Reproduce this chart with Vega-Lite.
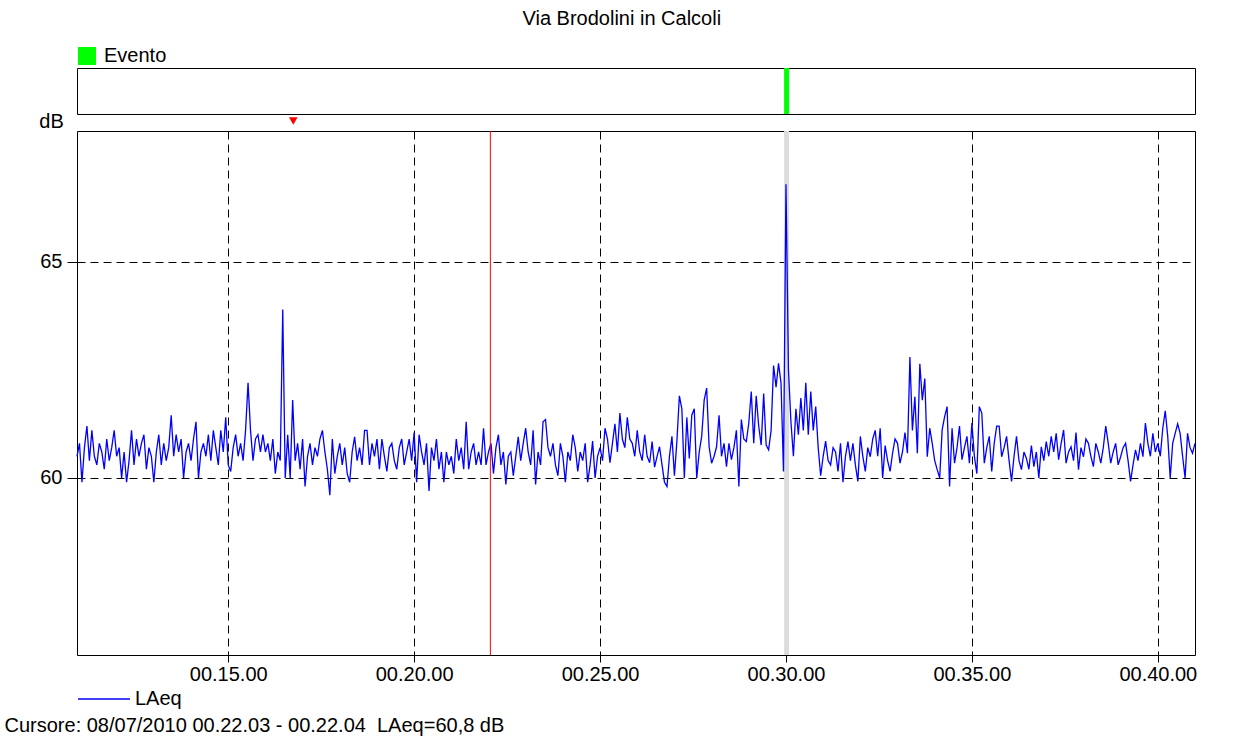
{
"$schema": "https://vega.github.io/schema/vega-lite/v6.json",
"background": "white",
"padding": {"left": 3, "top": 8, "right": 10, "bottom": 5},
"bounds": "flush",
"spacing": 17,
"title": {"text": "Via Brodolini in Calcoli", "fontSize": 20, "fontWeight": "normal", "font": "Liberation Sans", "color": "black", "anchor": "middle", "offset": 17, "dx": 21},
"config": {"font": "Liberation Sans", "view": {"stroke": "black", "strokeWidth": 1}},
"resolve": {"scale": {"color": "independent"}, "legend": {"color": "independent"}},
"datasets": {
"evento": [{"inizio": 1797, "fine": 1805, "tipo": "Evento"}],
"laeq": [
{"t":656,"v":60.5},{"t":660,"v":60.8},{"t":664,"v":59.9},{"t":668,"v":60.7},{"t":672,"v":61.2},{"t":676,"v":60.4},{"t":680,"v":61.1},{"t":684,"v":60.5},{"t":688,"v":60.3},{"t":692,"v":60.8},{"t":696,"v":60.6},{"t":700,"v":60.2},{"t":704,"v":60.9},{"t":708,"v":60.4},{"t":712,"v":60.7},{"t":716,"v":61.1},{"t":720,"v":60.5},{"t":724,"v":60.7},{"t":728,"v":60.0},{"t":732,"v":60.6},{"t":736,"v":59.9},{"t":740,"v":60.4},{"t":744,"v":61.1},{"t":748,"v":60.3},{"t":752,"v":60.9},{"t":756,"v":60.5},{"t":760,"v":60.8},{"t":764,"v":61.0},{"t":768,"v":60.2},{"t":772,"v":60.7},{"t":776,"v":60.5},{"t":780,"v":59.9},{"t":784,"v":60.6},{"t":788,"v":61.0},{"t":792,"v":60.3},{"t":796,"v":60.8},{"t":800,"v":60.4},{"t":804,"v":60.7},{"t":808,"v":61.45},{"t":812,"v":60.5},{"t":816,"v":61.0},{"t":820,"v":60.6},{"t":824,"v":60.9},{"t":828,"v":60.0},{"t":832,"v":60.6},{"t":836,"v":60.8},{"t":840,"v":60.4},{"t":844,"v":60.9},{"t":848,"v":61.3},{"t":852,"v":60.0},{"t":856,"v":60.6},{"t":860,"v":60.8},{"t":864,"v":60.5},{"t":868,"v":61.0},{"t":872,"v":60.4},{"t":876,"v":61.1},{"t":880,"v":60.7},{"t":884,"v":60.3},{"t":888,"v":61.1},{"t":892,"v":60.6},{"t":896,"v":61.4},
{"t":900,"v":60.3},{"t":904,"v":60.15},{"t":908,"v":60.7},{"t":912,"v":61.0},{"t":916,"v":60.5},{"t":920,"v":60.8},{"t":924,"v":60.4},{"t":928,"v":61.1},{"t":932,"v":62.2},{"t":936,"v":61.1},{"t":940,"v":60.4},{"t":944,"v":60.9},{"t":948,"v":61.0},{"t":952,"v":60.6},{"t":956,"v":61.0},{"t":960,"v":60.6},{"t":964,"v":60.8},{"t":968,"v":60.4},{"t":972,"v":60.9},{"t":976,"v":60.1},{"t":980,"v":60.6},{"t":984,"v":60.4},{"t":988,"v":63.9},{"t":992,"v":60.0},{"t":996,"v":61.0},{"t":1000,"v":60.0},{"t":1004,"v":61.8},{"t":1008,"v":60.4},{"t":1012,"v":60.8},{"t":1016,"v":60.2},{"t":1020,"v":60.9},{"t":1024,"v":59.8},{"t":1028,"v":60.5},{"t":1032,"v":60.8},{"t":1036,"v":60.3},{"t":1040,"v":60.7},{"t":1044,"v":60.5},{"t":1048,"v":60.9},{"t":1052,"v":61.1},{"t":1056,"v":60.6},{"t":1060,"v":60.2},{"t":1064,"v":59.6},{"t":1068,"v":60.9},{"t":1072,"v":60.1},{"t":1076,"v":60.5},{"t":1080,"v":60.8},{"t":1084,"v":60.3},{"t":1088,"v":60.7},{"t":1092,"v":60.1},{"t":1096,"v":59.9},{"t":1100,"v":60.6},{"t":1104,"v":60.95},{"t":1108,"v":60.4},{"t":1112,"v":60.7},{"t":1116,"v":60.3},{"t":1120,"v":61.1},{"t":1124,"v":61.1},{"t":1128,"v":60.3},{"t":1132,"v":60.8},{"t":1136,"v":60.5},{"t":1140,"v":60.9},{"t":1144,"v":60.2},{"t":1148,"v":60.9},{"t":1152,"v":60.5},{"t":1156,"v":60.15},{"t":1160,"v":60.7},{"t":1164,"v":60.8},{"t":1168,"v":60.4},{"t":1172,"v":60.2},{"t":1176,"v":60.7},{"t":1180,"v":60.9},{"t":1184,"v":60.3},{"t":1188,"v":60.6},{"t":1192,"v":60.9},{"t":1196,"v":60.4},{"t":1200,"v":61.05},{"t":1204,"v":59.9},{"t":1208,"v":61.0},{"t":1212,"v":60.6},{"t":1216,"v":60.3},{"t":1220,"v":60.8},{"t":1224,"v":59.7},{"t":1228,"v":60.7},{"t":1232,"v":60.4},{"t":1236,"v":60.9},{"t":1240,"v":60.2},{"t":1244,"v":60.6},{"t":1248,"v":59.9},{"t":1252,"v":60.6},{"t":1256,"v":60.3},{"t":1260,"v":60.5},{"t":1264,"v":60.1},{"t":1268,"v":60.9},{"t":1272,"v":60.4},{"t":1276,"v":60.7},{"t":1280,"v":60.2},{"t":1284,"v":61.3},{"t":1288,"v":60.2},{"t":1292,"v":60.6},{"t":1296,"v":60.8},{"t":1300,"v":60.3},{"t":1304,"v":60.6},{"t":1308,"v":60.3},{"t":1312,"v":61.15},{"t":1316,"v":60.3},{"t":1320,"v":60.6},
{"t":1324,"v":60.8},{"t":1328,"v":60.1},{"t":1332,"v":60.7},{"t":1336,"v":61.0},{"t":1340,"v":60.3},{"t":1344,"v":60.6},{"t":1348,"v":59.85},{"t":1352,"v":60.5},{"t":1356,"v":60.6},{"t":1360,"v":60.05},{"t":1364,"v":60.5},{"t":1368,"v":60.95},{"t":1372,"v":60.4},{"t":1376,"v":60.8},{"t":1380,"v":61.15},{"t":1384,"v":60.6},{"t":1388,"v":60.3},{"t":1392,"v":61.1},{"t":1396,"v":59.85},{"t":1400,"v":60.6},{"t":1404,"v":60.3},{"t":1408,"v":61.3},{"t":1412,"v":61.35},{"t":1416,"v":60.7},{"t":1420,"v":60.5},{"t":1424,"v":60.8},{"t":1428,"v":60.3},{"t":1432,"v":60.05},{"t":1436,"v":60.8},{"t":1440,"v":60.5},{"t":1444,"v":59.9},{"t":1448,"v":60.6},{"t":1452,"v":60.4},{"t":1456,"v":61.0},{"t":1460,"v":60.7},{"t":1464,"v":60.15},{"t":1468,"v":60.6},{"t":1472,"v":60.4},{"t":1476,"v":60.8},{"t":1480,"v":59.9},{"t":1484,"v":60.3},{"t":1488,"v":60.85},{"t":1492,"v":60.0},{"t":1496,"v":60.5},{"t":1500,"v":60.7},{"t":1504,"v":60.4},{"t":1508,"v":61.15},{"t":1512,"v":60.9},{"t":1516,"v":60.35},{"t":1520,"v":60.8},{"t":1524,"v":61.25},{"t":1528,"v":60.6},{"t":1532,"v":61.5},{"t":1536,"v":60.9},{"t":1540,"v":60.7},{"t":1544,"v":61.4},{"t":1548,"v":60.9},{"t":1552,"v":60.8},{"t":1556,"v":60.5},{"t":1560,"v":61.1},
{"t":1564,"v":60.6},{"t":1568,"v":60.4},{"t":1572,"v":61.0},{"t":1576,"v":60.5},{"t":1580,"v":60.35},{"t":1584,"v":60.84},{"t":1588,"v":60.25},{"t":1592,"v":60.5},{"t":1596,"v":60.72},{"t":1600,"v":60.3},{"t":1604,"v":59.9},{"t":1608,"v":59.8},{"t":1612,"v":60.5},{"t":1616,"v":60.96},{"t":1620,"v":60.05},{"t":1624,"v":60.85},{"t":1628,"v":61.9},{"t":1632,"v":61.6},{"t":1636,"v":60.0},{"t":1640,"v":61.4},{"t":1644,"v":60.45},{"t":1648,"v":61.45},{"t":1652,"v":61.6},{"t":1656,"v":60.0},{"t":1660,"v":60.6},{"t":1664,"v":60.96},{"t":1668,"v":61.8},{"t":1672,"v":62.08},{"t":1676,"v":60.72},{"t":1680,"v":60.34},{"t":1684,"v":60.5},{"t":1688,"v":60.72},{"t":1692,"v":61.45},{"t":1696,"v":60.5},{"t":1700,"v":60.8},{"t":1704,"v":60.26},{"t":1708,"v":60.8},{"t":1712,"v":60.42},{"t":1716,"v":60.7},{"t":1720,"v":61.1},{"t":1724,"v":59.8},{"t":1728,"v":61.35},{"t":1732,"v":60.9},{"t":1736,"v":60.84},{"t":1740,"v":61.27},{"t":1744,"v":62.0},{"t":1748,"v":60.8},{"t":1752,"v":61.9},{"t":1756,"v":61.2},{"t":1760,"v":60.76},{"t":1764,"v":61.95},{"t":1768,"v":60.76},{"t":1772,"v":60.65},{"t":1776,"v":61.1},{"t":1780,"v":62.6},{"t":1784,"v":62.1},{"t":1788,"v":62.65},{"t":1792,"v":62.2},{"t":1796,"v":60.15},{"t":1800,"v":66.8},{"t":1804,"v":62.5},{"t":1808,"v":61.3},{"t":1812,"v":60.5},{"t":1816,"v":61.6},{"t":1820,"v":61.0},{"t":1824,"v":61.85},{"t":1828,"v":61.1},{"t":1832,"v":62.2},{"t":1836,"v":61.0},{"t":1840,"v":62.0},{"t":1844,"v":61.1},{"t":1848,"v":61.65},{"t":1852,"v":60.7},{"t":1856,"v":60.05},{"t":1860,"v":60.5},{"t":1864,"v":60.85},{"t":1868,"v":60.4},{"t":1872,"v":60.3},{"t":1876,"v":60.7},{"t":1880,"v":60.6},
{"t":1884,"v":60.15},{"t":1888,"v":60.8},{"t":1892,"v":59.9},{"t":1896,"v":60.5},{"t":1900,"v":60.84},{"t":1904,"v":60.4},{"t":1908,"v":60.8},{"t":1912,"v":60.3},{"t":1916,"v":59.92},{"t":1920,"v":60.96},{"t":1924,"v":60.5},{"t":1928,"v":60.15},{"t":1932,"v":60.7},{"t":1936,"v":60.49},{"t":1940,"v":60.9},{"t":1944,"v":61.1},{"t":1948,"v":60.5},{"t":1952,"v":61.15},{"t":1956,"v":60.0},{"t":1960,"v":60.75},{"t":1964,"v":60.4},{"t":1968,"v":60.15},{"t":1972,"v":60.57},{"t":1976,"v":60.9},{"t":1980,"v":60.8},{"t":1984,"v":60.34},{"t":1988,"v":60.6},{"t":1992,"v":61.05},{"t":1996,"v":60.57},{"t":2000,"v":62.8},{"t":2004,"v":61.1},{"t":2008,"v":61.88},{"t":2012,"v":60.57},{"t":2016,"v":62.64},{"t":2020,"v":61.8},{"t":2024,"v":62.3},{"t":2028,"v":60.49},{"t":2032,"v":61.15},{"t":2036,"v":60.8},{"t":2040,"v":60.4},{"t":2044,"v":60.19},{"t":2048,"v":60.0},{"t":2052,"v":61.11},{"t":2056,"v":61.42},{"t":2060,"v":61.65},{"t":2064,"v":59.8},{"t":2068,"v":61.15},{"t":2072,"v":60.34},{"t":2076,"v":60.7},{"t":2080,"v":61.2},{"t":2084,"v":60.42},{"t":2088,"v":60.7},{"t":2092,"v":60.96},{"t":2096,"v":60.34},{"t":2100,"v":61.27},{"t":2104,"v":60.5},{"t":2108,"v":60.1},{"t":2112,"v":61.65},{"t":2116,"v":61.5},{"t":2120,"v":60.34},{"t":2124,"v":60.7},{"t":2128,"v":60.96},{"t":2132,"v":60.15},{"t":2136,"v":60.8},{"t":2140,"v":61.2},{"t":2144,"v":61.2},{"t":2148,"v":60.49},{"t":2152,"v":60.7},{"t":2156,"v":60.96},{"t":2160,"v":60.4},{"t":2164,"v":59.92},{"t":2168,"v":60.5},{"t":2172,"v":60.96},{"t":2176,"v":60.4},{"t":2180,"v":60.19},{"t":2184,"v":60.6},{"t":2188,"v":60.45},{"t":2192,"v":60.2},{"t":2196,"v":60.75},{"t":2200,"v":60.26},{"t":2204,"v":60.6},{"t":2208,"v":60.0},{"t":2212,"v":60.72},{"t":2216,"v":60.4},{"t":2220,"v":60.84},{"t":2224,"v":60.5},{"t":2228,"v":60.96},{"t":2232,"v":60.6},{"t":2236,"v":61.03},{"t":2240,"v":60.42},{"t":2244,"v":60.8},{"t":2248,"v":61.11},{"t":2252,"v":60.34},{"t":2256,"v":60.6},{"t":2260,"v":60.72},{"t":2264,"v":60.4},{"t":2268,"v":61.05},{"t":2272,"v":60.19},{"t":2276,"v":60.7},{"t":2280,"v":60.49},{"t":2284,"v":60.9},{"t":2288,"v":60.8},{"t":2292,"v":60.5},{"t":2296,"v":60.26},{"t":2300,"v":60.8},{"t":2304,"v":60.6},{"t":2308,"v":60.34},{"t":2312,"v":60.7},{"t":2316,"v":61.2},{"t":2320,"v":60.8},{"t":2324,"v":60.34},{"t":2328,"v":60.6},{"t":2332,"v":60.8},{"t":2336,"v":60.3},{"t":2340,"v":60.49},{"t":2344,"v":60.7},{"t":2348,"v":60.8},{"t":2352,"v":60.4},{"t":2356,"v":59.92},{"t":2360,"v":60.3},{"t":2364,"v":60.65},{"t":2368,"v":60.4},{"t":2372,"v":60.8},{"t":2376,"v":60.49},{"t":2380,"v":61.27},{"t":2384,"v":60.8},{"t":2388,"v":60.5},{"t":2392,"v":61.03},{"t":2396,"v":60.6},{"t":2400,"v":60.8},{"t":2404,"v":60.5},{"t":2408,"v":61.15},{"t":2412,"v":61.55},{"t":2416,"v":60.96},{"t":2420,"v":60.0},{"t":2424,"v":60.8},{"t":2428,"v":61.03},{"t":2432,"v":61.25},{"t":2436,"v":61.03},{"t":2440,"v":60.5},{"t":2444,"v":60.0},{"t":2448,"v":61.03},{"t":2452,"v":60.7},{"t":2456,"v":60.57},{"t":2460,"v":60.8}
],
"marcatori": [{"t": 1005}],
"cursore": [{"t": 1323}]
},
"vconcat": [
{
"width": 1118, "height": 46,
"data": {"name": "evento"},
"mark": {"type": "rect", "opacity": 1},
"encoding": {
"x": {"field": "inizio", "type": "quantitative", "scale": {"domain": [656, 2460], "nice": false, "zero": false}, "axis": null},
"x2": {"field": "fine"},
"color": {"field": "tipo", "type": "nominal", "scale": {"range": ["#00ff00"]},
"legend": {"title": null, "orient": "none", "legendX": 0, "legendY": -22, "padding": 0, "symbolType": "square", "symbolSize": 324, "symbolStrokeWidth": 0, "symbolOpacity": 1, "labelFontSize": 20, "labelColor": "black", "labelOffset": 7, "labelFont": "Liberation Sans"}}
}
},
{
"width": 1118, "height": 524,
"layer": [
{
"data": {"name": "evento"},
"mark": {"type": "rect", "color": "#dcdcdc", "opacity": 1},
"encoding": {
"x": {"field": "inizio", "type": "quantitative", "scale": {"domain": [656, 2460], "nice": false, "zero": false},
"axis": {"title": "Cursore: 08/07/2010 00.22.03 - 00.22.04 \u00a0LAeq=60,8 dB", "values": [900, 1200, 1500, 1800, 2100, 2400], "labelExpr": "'00.' + (datum.value/60) + '.00'", "grid": true, "gridColor": "black", "gridDash": [8, 5], "gridWidth": 1, "gridOpacity": 1, "domain": false, "ticks": true, "tickSize": 7, "tickColor": "black", "tickWidth": 1, "labelFontSize": 20, "labelColor": "black", "labelPadding": 2, "labelFlush": false, "labelFont": "Liberation Sans", "titleFont": "Liberation Sans", "titleFontSize": 20, "titleFontWeight": "normal", "titleColor": "black", "titleAnchor": "start", "titleAlign": "left", "titleX": -73, "titleY": 70, "titleBaseline": "middle"}},
"x2": {"field": "fine"}
}
},
{
"mark": {"type": "rule", "color": "#8c8c8c", "strokeDash": [8, 5], "strokeWidth": 1},
"encoding": {"x": {"datum": 1800}}
},
{
"data": {"name": "laeq"},
"mark": {"type": "line", "strokeWidth": 1.3, "interpolate": "linear"},
"encoding": {
"x": {"field": "t", "type": "quantitative"},
"y": {"field": "v", "type": "quantitative", "scale": {"domain": [55.9, 68.03], "nice": false, "zero": false},
"axis": {"title": "dB", "values": [60, 65], "grid": true, "gridColor": "black", "gridDash": [8, 5], "gridWidth": 1, "gridOpacity": 1, "domain": false, "ticks": true, "tickSize": 10, "tickColor": "black", "labelFontSize": 20, "labelColor": "black", "labelPadding": 5, "labelFont": "Liberation Sans", "titleFont": "Liberation Sans", "titleFontSize": 20, "titleFontWeight": "normal", "titleColor": "black", "titleAngle": 0, "titleX": -26, "titleY": -10, "titleAlign": "center", "titleBaseline": "middle"}},
"color": {"datum": "LAeq", "type": "nominal", "scale": {"range": ["#0000ff"]},
"legend": {"title": null, "orient": "none", "legendX": 0, "legendY": 541, "padding": 0, "symbolType": "stroke", "symbolSize": 2704, "symbolStrokeWidth": 1.5, "labelFontSize": 20, "labelColor": "black", "labelOffset": 4, "labelFont": "Liberation Sans"}}
}
},
{
"data": {"name": "cursore"},
"mark": {"type": "rule", "color": "#ff0000", "strokeWidth": 1},
"encoding": {"x": {"field": "t", "type": "quantitative"}}
},
{
"data": {"name": "marcatori"},
"mark": {"type": "point", "shape": "triangle-down", "filled": true, "color": "#ff0000", "size": 75, "opacity": 1},
"encoding": {"x": {"field": "t", "type": "quantitative"}, "y": {"datum": 68.26}}
}
]
}
]
}
